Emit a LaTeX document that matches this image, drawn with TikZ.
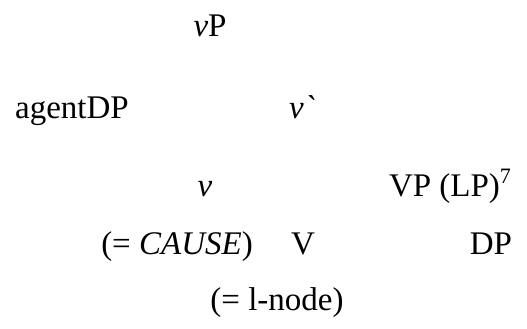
\documentclass[tikz,border=0pt]{standalone}
\usepackage{fontspec}
\setmainfont{Liberation Serif}[Ligatures=TeXOff]
\begin{document}
\begin{tikzpicture}[x=1pt,y=-1pt,
  lbl/.style={inner sep=0pt,anchor=base,font=\fontsize{33}{39}\selectfont}]
\useasboundingbox (0,0) rectangle (527,329);
\node[lbl] (vP) at (210,37) {\textit{v}P};
\node[lbl] (agent) at (72,118) {agentDP};
\node[lbl] (vbar) at (302,118) {\textit{v`}};
\node[lbl] (v) at (205,196) {\textit{v}};
\node[lbl] (VP) at (450,196) {VP (LP)\raisebox{13pt}{\fontsize{22}{24}\selectfont 7}};
\node[lbl] (cause) at (177,254) {(= \textit{CAUSE})};
\node[lbl] (V) at (303,254) {V};
\node[lbl] (DP) at (491,254) {DP};
\node[lbl] (lnode) at (277,310) {(= l-node)};
\end{tikzpicture}
\end{document}
